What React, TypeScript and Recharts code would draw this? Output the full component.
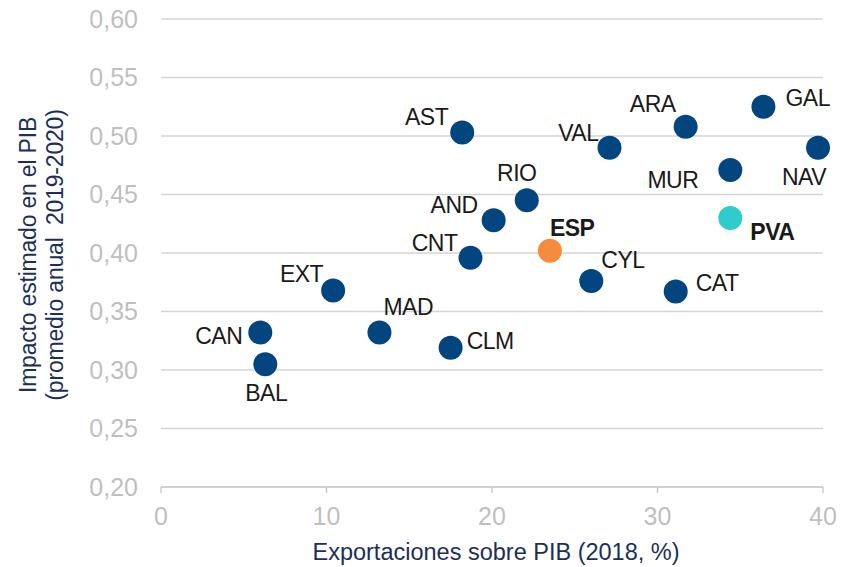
import React from 'react';
import { ScatterChart, Scatter, XAxis, YAxis, CartesianGrid, Label } from 'recharts';

const regions = ['CAN', 'BAL', 'EXT', 'MAD', 'CLM', 'AST', 'CNT', 'AND', 'RIO', 'ESP', 'CYL', 'VAL', 'CAT', 'ARA', 'MUR', 'PVA', 'GAL', 'NAV'];
const exportsPib = [6.0, 6.3, 10.4, 13.2, 17.5, 18.2, 18.7, 20.1, 22.1, 23.5, 26.0, 27.1, 31.1, 31.7, 34.4, 34.4, 36.4, 39.7];
const impactPib = [0.332, 0.305, 0.368, 0.332, 0.319, 0.503, 0.396, 0.428, 0.445, 0.402, 0.376, 0.490, 0.367, 0.508, 0.471, 0.430, 0.525, 0.490];
const xTicks = [0, 10, 20, 30, 40];
const yTicks = [0.2, 0.25, 0.3, 0.35, 0.4, 0.45, 0.5, 0.55, 0.6];

const data = regions.map((name, i) => ({ name, x: exportsPib[i], y: impactPib[i] }));

const FONT = '"Liberation Sans", Arial, sans-serif';
const NAVY = '#02457f';
const ORANGE = '#f58b3b';
const CYAN = '#2ecccc';

// label placement (style only): dx, dy relative to point centre, anchor
const labelPlace: Record<string, [number, number, string]> = {
  CAN: [-18, 3, 'end'],
  BAL: [1, 29, 'middle'],
  EXT: [-10, -16, 'end'],
  MAD: [4, -26, 'start'],
  CLM: [16, -7, 'start'],
  AST: [-14, -15, 'end'],
  CNT: [-13, -15, 'end'],
  AND: [-16, -15, 'end'],
  RIO: [-10, -27, 'middle'],
  ESP: [0, -23, 'start'],
  CYL: [10, -21, 'start'],
  VAL: [-11, -15, 'end'],
  CAT: [20, -9, 'start'],
  ARA: [-10, -23, 'end'],
  MUR: [-32, 10, 'end'],
  PVA: [20, 14, 'start'],
  GAL: [22, -9, 'start'],
  NAV: [8, 29, 'end'],
};

const colorFor = (name: string) => (name === 'ESP' ? ORANGE : name === 'PVA' ? CYAN : NAVY);

const PointShape = (props: any) => {
  const { cx, cy, payload } = props;
  const name = payload.name as string;
  const [dx, dy, anchor] = labelPlace[name] || [0, -20, 'middle'];
  const bold = name === 'ESP' || name === 'PVA';
  return (
    <g>
      <circle cx={cx} cy={cy} r={12} fill={colorFor(name)} />
      <text
        x={cx + dx}
        y={cy + dy + 8}
        textAnchor={anchor as any}
        fontFamily={FONT}
        fontSize={23}
        fontWeight={bold ? 'bold' : 'normal'}
        fill="#1a1a1a"
        letterSpacing={-0.5}
      >
        {name}
      </text>
    </g>
  );
};

const fmtY = (v: number) => v.toFixed(2).replace('.', ',');

export default function App() {
  return (
    <div style={{ position: 'absolute', left: 0, top: 0, background: '#fff' }}>
      <ScatterChart width={843} height={567} margin={{ top: 19, right: 20, bottom: 20, left: 60 }}>
        <CartesianGrid horizontal vertical={false} stroke="#d4d4d4" strokeWidth={1.5} />
        <XAxis
          type="number"
          dataKey="x"
          domain={[0, 40]}
          ticks={xTicks}
          height={60}
          axisLine={{ stroke: '#cccccc', strokeWidth: 1.5 }}
          tickLine={{ stroke: '#cccccc', strokeWidth: 1.5 }}
          tickSize={6}
          tickMargin={14}
          tick={{ fill: '#bfbfbf', fontSize: 25, fontFamily: FONT }}
        >
          <Label
            content={(p: any) => {
              const vb = p.viewBox || { x: 161, y: 487, width: 662 };
              return (
                <text
                  x={vb.x + vb.width / 2 + 4}
                  y={vb.y + 73}
                  textAnchor="middle"
                  fontFamily={FONT}
                  fontSize={23.5}
                  fill="#1b2f57"
                >
                  Exportaciones sobre PIB (2018, %)
                </text>
              );
            }}
          />
        </XAxis>
        <YAxis
          type="number"
          dataKey="y"
          domain={[0.2, 0.6]}
          ticks={yTicks}
          width={101}
          axisLine={false}
          tickLine={false}
          tickSize={0}
          tickMargin={23}
          tickFormatter={fmtY}
          tick={{ fill: '#bfbfbf', fontSize: 25, fontFamily: FONT }}
        >
          <Label
            content={(p: any) => {
              const vb = p.viewBox || { x: 60, y: 19, height: 468 };
              const cy = vb.y + vb.height / 2 + 2;
              return (
                <g>
                  <text
                    x={28}
                    y={cy}
                    transform={`rotate(-90, 28, ${cy})`}
                    textAnchor="middle"
                    dominantBaseline="central"
                    fontFamily={FONT}
                    fontSize={23}
                    fill="#1b2f57"
                    letterSpacing={-0.2}
                  >
                    Impacto estimado en el PIB
                  </text>
                  <text
                    x={55}
                    y={cy}
                    transform={`rotate(-90, 55, ${cy})`}
                    textAnchor="middle"
                    dominantBaseline="central"
                    fontFamily={FONT}
                    fontSize={23}
                    fill="#1b2f57"
                    letterSpacing={-0.2}
                    style={{ whiteSpace: 'pre' }}
                  >
                    (promedio anual  2019-2020)
                  </text>
                </g>
              );
            }}
          />
        </YAxis>
        <Scatter data={data} isAnimationActive={false} shape={PointShape} />
      </ScatterChart>
    </div>
  );
}
